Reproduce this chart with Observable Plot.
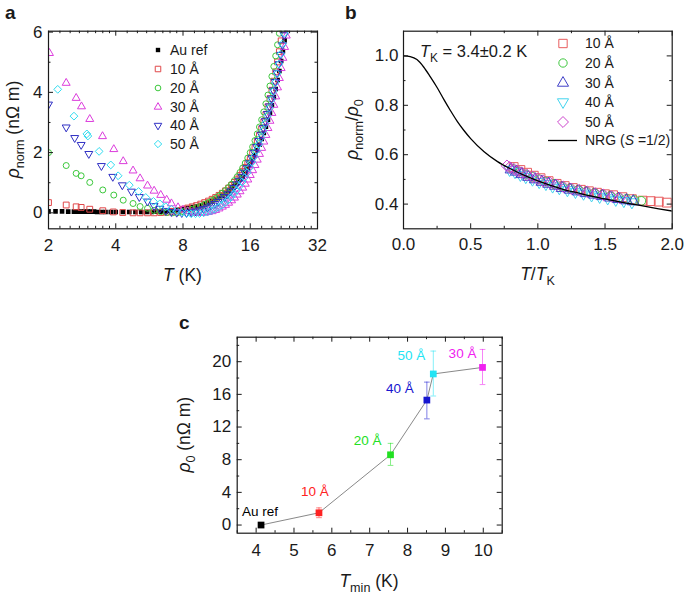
<!DOCTYPE html>
<html><head><meta charset="utf-8">
<script src="https://cdn.jsdelivr.net/npm/d3@7"></script>
<script src="https://cdn.jsdelivr.net/npm/@observablehq/plot@0.6"></script>
<style>
body{margin:0;background:#fff;}
#wrap{position:relative;width:685px;height:594px;background:#fff;overflow:hidden;}
#wrap > svg{position:absolute;}
</style></head><body><div id="wrap"></div>
<script>
// ---------------- DATA ----------------
// Panel a: rho_norm (nOhm m) vs T (K)
const tAu = [2.0,2.15,2.3,2.45,2.6,2.7,2.8,2.9,3.0,3.1,3.2,3.3,3.45,3.6,3.8,4.0,4.3,4.6,4.9,5.2,5.5,5.8,6.1,6.4,6.7,7.0,7.3,7.6,8.0,8.4,8.8,9.2,9.6,10.0,10.4,10.8,11.2,11.6,12.0,12.4,12.8,13.2,13.6,14.0,14.4,14.8,15.2,15.6,16.0,16.4,16.8,17.2,17.6,18.0,18.4,18.8,19.2,19.6,20.0,20.4,20.8,21.2,21.6,22.0,22.4,22.8,23.2];
const rhoAu = [0.05,0.05,0.05,0.04,0.04,0.04,0.04,0.04,0.04,0.04,0.04,0.03,0.03,0.03,0.03,0.03,0.03,0.03,0.03,0.03,0.03,0.03,0.04,0.04,0.05,0.06,0.07,0.09,0.12,0.16,0.19,0.22,0.25,0.30,0.34,0.39,0.44,0.50,0.57,0.64,0.72,0.80,0.89,0.99,1.10,1.21,1.33,1.46,1.60,1.75,1.91,2.08,2.26,2.45,2.65,2.86,3.09,3.32,3.57,3.84,4.11,4.41,4.71,5.04,5.37,5.73,6.10];

const t10 = [2.0,2.4,2.66,2.8,3.06,3.5,3.9,4.3,4.78,5.14,5.55,5.94,6.36,6.76,7.2,7.6,8.0,8.4,8.8,9.2,9.6,10.0,10.4,10.8,11.2,11.6,12.0,12.4,12.8,13.2,13.6,14.0,14.4,14.8,15.2,15.6,16.0,16.4,16.8,17.2,17.6,18.0,18.4,18.8,19.2,19.6,20.0,20.4,20.8,21.2,21.6,22.0,22.4];
const rho10 = [0.34,0.26,0.20,0.18,0.12,0.07,0.03,0.01,0.0,0.0,0.0,0.0,0.01,0.02,0.05,0.08,0.12,0.16,0.20,0.24,0.29,0.34,0.39,0.45,0.51,0.58,0.65,0.73,0.82,0.91,1.01,1.12,1.24,1.37,1.51,1.66,1.82,1.99,2.17,2.37,2.57,2.79,3.02,3.26,3.52,3.79,4.07,4.37,4.68,5.01,5.35,5.71,6.08];

const t20 = [2.0,2.4,2.66,2.8,3.06,3.5,3.92,4.32,4.78,5.14,5.55,5.94,6.36,6.76,7.2,7.6,8.0,8.4,8.8,9.2,9.6,10.0,10.4,10.8,11.2,11.6,12.0,12.4,12.8,13.2,13.6,14.0,14.4,14.8,15.2,15.6,16.0,16.4,16.8,17.2,17.6,18.0,18.4,18.8,19.2,19.6,20.0,20.4,20.8,21.2,21.6,22.0];
const rho20 = [2.0,1.57,1.31,1.23,1.01,0.76,0.59,0.42,0.31,0.21,0.15,0.08,0.04,0.01,0.0,0.01,0.04,0.08,0.12,0.17,0.22,0.28,0.34,0.41,0.48,0.56,0.65,0.74,0.84,0.95,1.07,1.2,1.34,1.49,1.65,1.82,2.0,2.19,2.4,2.62,2.85,3.09,3.35,3.62,3.91,4.21,4.53,4.86,5.21,5.58,5.96,6.36];

const t30 = [2.02,2.4,2.66,2.81,3.06,3.49,3.92,4.32,4.78,5.14,5.55,5.94,6.36,6.76,7.1,7.6,8.0,8.4,8.8,9.2,9.6,10.0,10.4,10.8,11.2,11.6,12.0,12.4,12.8,13.2,13.6,14.0,14.4,14.8,15.2,15.6,16.0,16.4,16.8,17.2,17.6,18.0,18.4,18.8,19.2,19.6,20.0,20.4,20.8,21.2,21.6,22.0,22.4,22.8,23.2,23.6];
const rho30 = [5.3,4.31,3.81,3.53,3.11,2.54,2.11,1.71,1.4,1.14,0.9,0.73,0.59,0.43,0.31,0.18,0.1,0.05,0.02,0.0,-0.01,0.0,0.02,0.05,0.09,0.14,0.2,0.26,0.33,0.41,0.5,0.6,0.71,0.83,0.96,1.1,1.25,1.41,1.58,1.76,1.95,2.15,2.36,2.58,2.81,3.05,3.31,3.58,3.86,4.16,4.47,4.8,5.14,5.5,5.88,6.27];

const t40 = [2.0,2.4,2.62,2.8,3.03,3.45,3.88,4.28,4.7,5.1,5.55,5.94,6.3,6.7,7.1,7.5,7.9,8.3,8.7,9.1,9.5,9.9,10.3,10.7,11.1,11.5,11.9,12.3,12.7,13.1,13.5,13.9,14.3,14.7,15.1,15.5,15.9,16.3,16.7,17.1,17.5,17.9,18.3,18.7,19.1,19.5,19.9,20.3,20.7,21.1,21.5,21.9,22.3,22.7,23.1];
const rho40 = [3.6,2.84,2.49,2.26,1.96,1.56,1.2,0.92,0.71,0.53,0.38,0.23,0.14,0.07,0.03,0.01,0.0,0.0,0.02,0.05,0.09,0.13,0.18,0.24,0.3,0.37,0.45,0.53,0.62,0.72,0.83,0.95,1.07,1.2,1.34,1.49,1.65,1.82,2.0,2.19,2.39,2.6,2.82,3.05,3.29,3.54,3.8,4.07,4.35,4.64,4.94,5.25,5.57,5.9,6.24];

const t50 = [2.2,2.6,2.97,3.0,3.37,3.8,4.1,4.6,5.06,5.45,5.9,6.3,6.7,7.1,7.5,7.9,8.3,8.7,9.1,9.5,9.9,10.3,10.7,11.1,11.5,11.9,12.3,12.7,13.1,13.5,13.9,14.3,14.7,15.1,15.5,15.9,16.3,16.7,17.1,17.5,17.9,18.3,18.7,19.1,19.5,19.9,20.3,20.7,21.1,21.5,21.9,22.3,22.7,23.1];
const rho50 = [4.1,3.21,2.62,2.55,2.04,1.59,1.23,0.92,0.71,0.51,0.38,0.3,0.2,0.12,0.06,0.01,-0.02,-0.03,-0.03,-0.02,0.0,0.03,0.07,0.12,0.18,0.25,0.33,0.42,0.52,0.63,0.75,0.88,1.02,1.17,1.33,1.5,1.68,1.87,2.07,2.28,2.5,2.73,2.97,3.22,3.48,3.75,4.03,4.32,4.62,4.94,5.27,5.61,5.96,6.32];

const aXMajor = [2,4,8,16,32];
const aXMinor = [2.25,2.5,2.75,3,3.25,3.5,3.75,4.5,5,5.5,6,6.5,7,7.5,9,10,11,12,13,14,15,18,20,22,24,26,28,30];
const aYMajor = [0,2,4,6];
const aYMinor = [1,3,5];
const aLegend = ["Au ref","10 Å","20 Å","30 Å","40 Å","50 Å"];

// Panel b: rho_norm/rho0 vs T/TK
const nrgT = [0,0.05,0.1,0.15,0.2,0.25,0.3,0.35,0.4,0.45,0.5,0.6,0.7,0.8,0.9,1.0,1.1,1.2,1.3,1.4,1.5,1.6,1.7,1.8,1.9,2.0];
const nrgRho = [1.0,0.997,0.985,0.955,0.915,0.872,0.824,0.778,0.735,0.698,0.665,0.612,0.572,0.542,0.516,0.494,0.475,0.458,0.445,0.432,0.421,0.410,0.400,0.391,0.381,0.372];
const b10x = [0.82,0.87,0.92,0.97,1.02,1.08,1.14,1.20,1.26,1.32,1.38,1.44,1.50,1.56,1.63,1.70,1.78,1.84,1.90,1.96];
const b10y = [0.550,0.538,0.527,0.515,0.505,0.493,0.482,0.473,0.465,0.458,0.452,0.446,0.440,0.436,0.428,0.420,0.414,0.412,0.410,0.406];
const b20x = [0.81,0.86,0.91,0.96,1.01,1.06,1.12,1.18,1.24,1.30,1.36,1.42,1.48,1.54,1.60,1.66,1.72,1.77];
const b20y = [0.543,0.532,0.520,0.510,0.500,0.491,0.482,0.471,0.463,0.457,0.450,0.444,0.438,0.432,0.426,0.421,0.416,0.413];
const b30x = [0.80,0.84,0.88,0.93,0.98,1.03,1.08,1.13,1.18,1.24,1.30,1.36,1.42,1.48,1.54,1.60,1.66,1.71];
const b30y = [0.540,0.531,0.521,0.510,0.500,0.490,0.482,0.474,0.465,0.458,0.451,0.444,0.438,0.432,0.426,0.420,0.415,0.411];
const b40x = [0.79,0.83,0.87,0.91,0.96,1.01,1.06,1.11,1.16,1.22,1.28,1.34,1.40,1.46,1.52,1.58,1.64,1.70];
const b40y = [0.539,0.530,0.519,0.510,0.500,0.490,0.482,0.472,0.465,0.457,0.450,0.443,0.436,0.430,0.424,0.418,0.413,0.408];
const b50x = [0.77,0.79,0.82,0.85,0.88,0.92,0.96,1.00,1.04,1.09,1.14,1.19,1.25,1.31,1.37,1.43,1.49,1.55,1.61];
const b50y = [0.555,0.549,0.542,0.534,0.527,0.518,0.510,0.502,0.494,0.486,0.478,0.470,0.462,0.456,0.449,0.443,0.437,0.431,0.425];
const bXMajor = [0,0.5,1.0,1.5,2.0];
const bXMinor = [0.25,0.75,1.25,1.75];
const bYMajor = [0.4,0.6,0.8,1.0];
const bYMinor = [0.5,0.7,0.9];
const bLegend = ["10 Å","20 Å","30 Å","40 Å","50 Å"];

// Panel c: rho0 vs Tmin
const cLabels = ["Au ref","10 Å","20 Å","40 Å","50 Å","30 Å"];
const cTmin = [4.13,5.66,7.55,8.51,8.68,9.98];
const cRho0 = [0.0,1.5,8.6,15.3,18.5,19.3];
const cErrLo = [-0.3,0.9,7.3,13.0,15.8,17.2];
const cErrHi = [0.3,2.1,10.0,17.5,21.3,21.5];
const cXMajor = [4,5,6,7,8,9,10];
const cXMinor = [3.5,4.5,5.5,6.5,7.5,8.5,9.5,10.5];
const cYMajor = [0,4,8,12,16,20];
const cYMinor = [2,6,10,14,18,22];

// ---------------- STYLE ----------------
const FONT = "'Liberation Sans', Arial, Helvetica, sans-serif";
const INK = "#1a1a1a";
const TICKFS = 17;
const colA = {"Au ref":"#000000","10 Å":"#e0484a","20 Å":"#3cc83c","30 Å":"#dc3cdc","40 Å":"#3030c4","50 Å":"#2edcf0"};
const colB = {"10 Å":"#e85c5e","20 Å":"#40c840","30 Å":"#4040c8","40 Å":"#44d4ee","50 Å":"#cc44cc"};
const colC = {"Au ref":"#000000","10 Å":"#ff2222","20 Å":"#22e022","40 Å":"#1616d0","50 Å":"#22e4f4","30 Å":"#f020f0"};
const downTri = {draw(ctx, size){const s=Math.sqrt(size)*0.6824,t=s/2,u=s*Math.sqrt(3)/2;ctx.moveTo(0,s);ctx.lineTo(u,-t);ctx.lineTo(-u,-t);ctx.closePath();}};
const hCap = {draw(ctx, size){const w=Math.sqrt(size)/2;ctx.moveTo(-w,0);ctx.lineTo(w,0);}};
const symA = {"Au ref":"square","10 Å":"square2","20 Å":"circle","30 Å":"triangle2","40 Å":downTri,"50 Å":"diamond2"};
const rA = {"Au ref":2.6,"10 Å":3.7,"20 Å":3.0,"30 Å":3.8,"40 Å":3.8,"50 Å":3.5};
const symB = {"10 Å":"square2","20 Å":"circle","30 Å":"triangle2","40 Å":downTri,"50 Å":"diamond2"};
const rB = {"10 Å":5.6,"20 Å":4.4,"30 Å":5.6,"40 Å":5.6,"50 Å":5.2};
const cNudge = {"Au ref":[-1,-13],"10 Å":[-4,-21],"20 Å":[-23,-14],"40 Å":[-27,-11],"50 Å":[-22,-18],"30 Å":[-20,-14]};

const zip = (xs, ys, extra={}) => xs.slice(0, Math.min(xs.length, ys.length)).map((x,i)=>({x, y: ys[i], ...extra}));

function frameTicks(xs, ys, len, iw, ih) {
  const o = {stroke: INK, strokeWidth: 1};
  const m = [];
  if (xs) { m.push(Plot.tickX(xs, {...o, x: d=>d, insetTop: ih-len}), Plot.tickX(xs, {...o, x: d=>d, insetBottom: ih-len})); }
  if (ys) { m.push(Plot.tickY(ys, {...o, y: d=>d, insetRight: iw-len}), Plot.tickY(ys, {...o, y: d=>d, insetLeft: iw-len})); }
  return m;
}
const baseStyle = {fontFamily: FONT, fontSize: "17px", color: INK, background: "transparent", overflow: "visible"};
const wrap = document.getElementById("wrap");
function place(svg, left, top){ svg.style.left = left+"px"; svg.style.top = top+"px"; svg.style.maxWidth="none"; wrap.appendChild(svg); }

// ---------------- PANEL A ----------------
{
  const W=330,H=300,ml=48,mr=13,mt=30.7,mb=71.7, iw=W-ml-mr, ih=H-mt-mb;
  const series = [["Au ref",tAu,rhoAu],["10 Å",t10,rho10],["20 Å",t20,rho20],["30 Å",t30,rho30],["40 Å",t40,rho40],["50 Å",t50,rho50]];
  const dots = series.map(([k,t,r]) => Plot.dot(zip(t,r), {
    x:"x", y:"y", symbol: symA[k], r: rA[k], clip: true,
    fill: k==="Au ref" ? colA[k] : "none", stroke: k==="Au ref" ? "none" : colA[k], strokeWidth: 1
  }));
  const p = Plot.plot({
    width:W, height:H, marginLeft:ml, marginRight:mr, marginTop:mt, marginBottom:mb,
    x:{type:"log", base:2, domain:[2,32]}, y:{domain:[-0.53,6.03]},
    style: baseStyle,
    marks: [
      ...dots,
      Plot.frame({stroke: INK, strokeWidth: 1.2}),
      ...frameTicks(aXMajor, aYMajor, 5, iw, ih),
      ...frameTicks(aXMinor, aYMinor, 2.5, iw, ih),
      Plot.axisX({ticks: aXMajor, tickSize: 0, tickPadding: 10, tickFormat: d=>String(d), fontSize: TICKFS, label: null}),
      Plot.axisY({ticks: aYMajor, tickSize: 0, tickPadding: 6, tickFormat: d=>String(d), fontSize: TICKFS, label: null})
    ]
  });
  place(p, 0, 0);
}

// ---------------- PANEL B ----------------
{
  const W=345,H=300,ml=63,mr=13.3,mt=30.7,mb=71.7, iw=W-ml-mr, ih=H-mt-mb;
  const series = [["10 Å",b10x,b10y],["20 Å",b20x,b20y],["40 Å",b40x,b40y],["30 Å",b30x,b30y],["50 Å",b50x,b50y]];
  const dots = series.map(([k,x,y]) => Plot.dot(zip(x,y), {
    x:"x", y:"y", symbol: symB[k], r: rB[k], clip: true, fill: "none", stroke: colB[k], strokeWidth: 1
  }));
  const p = Plot.plot({
    width:W, height:H, marginLeft:ml, marginRight:mr, marginTop:mt, marginBottom:mb,
    x:{domain:[0,2]}, y:{domain:[0.3,1.1]},
    style: baseStyle,
    marks: [
      ...dots,
      Plot.line(zip(nrgT, nrgRho), {x:"x", y:"y", stroke:"#000", strokeWidth:1.3, curve:"monotone-x", clip:true}),
      Plot.frame({stroke: INK, strokeWidth: 1.2}),
      ...frameTicks(bXMajor, bYMajor, 5, iw, ih),
      ...frameTicks(bXMinor, bYMinor, 2.5, iw, ih),
      Plot.axisX({ticks: bXMajor, tickSize: 0, tickPadding: 9, tickFormat: d3.format(".1f"), fontSize: TICKFS, label: null}),
      Plot.axisY({ticks: bYMajor, tickSize: 0, tickPadding: 5, tickFormat: d3.format(".1f"), fontSize: TICKFS, label: null})
    ]
  });
  place(p, 340, 0);
}

// ---------------- PANEL C ----------------
{
  const W=345,H=284,ml=66.7,mr=13.3,mt=26.7,mb=61.3, iw=W-ml-mr, ih=H-mt-mb;
  const data = cLabels.map((k,i)=>({k, x:cTmin[i], y:cRho0[i], lo:cErrLo[i], hi:cErrHi[i], c:colC[k]}));
  const labelMarks = data.map(d => Plot.text([d], {x:"x", y:"y", text:"k", fill: d.c, dx: cNudge[d.k][0], dy: cNudge[d.k][1], fontSize: 13.5}));
  const p = Plot.plot({
    width:W, height:H, marginLeft:ml, marginRight:mr, marginTop:mt, marginBottom:mb,
    x:{domain:[3.5,10.5]}, y:{domain:[-1,23]}, color:{type:"identity"},
    style: baseStyle,
    marks: [
      Plot.line(data, {x:"x", y:"y", stroke:"#7a7a7a", strokeWidth:0.9, sort:"x"}),
      Plot.ruleX(data, {x:"x", y1:"lo", y2:"hi", stroke:"c", strokeOpacity:0.55, strokeWidth:1}),
      Plot.dot(data, {x:"x", y:"hi", symbol: hCap, r: 3.2, stroke:"c", strokeOpacity:0.55, strokeWidth:1}),
      Plot.dot(data, {x:"x", y:"lo", symbol: hCap, r: 3.2, stroke:"c", strokeOpacity:0.55, strokeWidth:1}),
      Plot.dot(data, {x:"x", y:"y", symbol:"square", r:3.8, fill:"c", stroke:"none"}),
      ...labelMarks,
      Plot.frame({stroke: INK, strokeWidth: 1.2}),
      ...frameTicks(cXMajor, cYMajor, 5, iw, ih),
      ...frameTicks(cXMinor, cYMinor, 2.5, iw, ih),
      Plot.axisX({ticks: cXMajor, tickSize: 0, tickPadding: 11, tickFormat: d=>String(d), fontSize: TICKFS, label: null}),
      Plot.axisY({ticks: cYMajor, tickSize: 0, tickPadding: 6, tickFormat: d=>String(d), fontSize: TICKFS, label: null})
    ]
  });
  place(p, 170, 310);
}

// ---------------- OVERLAY: titles, legends ----------------
const ov = d3.create("svg").attr("width",685).attr("height",594)
  .style("left","0px").style("top","0px").style("pointer-events","none")
  .attr("font-family", FONT).attr("fill", INK);
wrap.appendChild(ov.node());

function rich(x, y, parts, {size=17.5, anchor="middle", rotate=0, weight="normal", fill=INK}={}) {
  const t = ov.append("text").attr("x",x).attr("y",y).attr("text-anchor",anchor)
    .attr("font-size",size).attr("font-weight",weight).attr("fill",fill);
  if (rotate) t.attr("transform",`rotate(${rotate},${x},${y})`);
  let shift = 0;
  for (const p of parts) {
    const ts = t.append("tspan").text(p.t);
    const target = p.sub ? size*0.3 : 0;
    if (target !== shift) { ts.attr("dy", target - shift); shift = target; }
    if (p.sub) ts.attr("font-size", size*0.72);
    if (p.i) ts.attr("font-style","italic");
  }
  return t;
}
// panel letters
rich(5, 19, [{t:"a"}], {size:19, anchor:"start", weight:"bold"});
rich(345, 19, [{t:"b"}], {size:19, anchor:"start", weight:"bold"});
rich(179, 329, [{t:"c"}], {size:19, anchor:"start", weight:"bold"});
// axis titles
rich(182.5, 281, [{t:"T", i:true},{t:" (K)"}]);
rich(19, 129.5, [{t:"ρ", i:true},{t:"norm", sub:true},{t:" (nΩ m)"}], {rotate:-90});
rich(537.5, 280, [{t:"T", i:true},{t:"/"},{t:"T", i:true},{t:"K", sub:true}]);
rich(358, 129.5, [{t:"ρ", i:true},{t:"norm", sub:true},{t:"/"},{t:"ρ", i:true},{t:"0", sub:true}], {rotate:-90});
rich(369, 587, [{t:"T", i:true},{t:"min", sub:true},{t:" (K)"}]);
rich(190, 434.7, [{t:"ρ", i:true},{t:"0", sub:true},{t:" (nΩ m)"}], {rotate:-90});
// TK annotation
rich(420, 57, [{t:"T", i:true},{t:"K", sub:true},{t:" = 3.4±0.2 K"}], {size:16.5, anchor:"start"});

const d3sym = {"square":d3.symbolSquare,"square2":d3.symbolSquare2,"circle":d3.symbolCircle,"triangle2":d3.symbolTriangle2,"diamond2":d3.symbolDiamond2};
function legendSym(x, y, s, r, fill, stroke, sw=1) {
  const type = typeof s === "string" ? d3sym[s] : s;
  ov.append("path").attr("transform",`translate(${x},${y})`)
    .attr("d", d3.symbol(type, Math.PI*r*r)())
    .attr("fill", fill).attr("stroke", stroke).attr("stroke-width", sw);
}
// legend a
const aRows = [50,69,88,107,125.5,144];
aLegend.forEach((k,i) => {
  const filled = k==="Au ref";
  legendSym(158, aRows[i], symA[k], rA[k]*0.95, filled ? colA[k] : "none", filled ? "none" : colA[k]);
  rich(170, aRows[i]+4.8, [{t:k}], {size:14, anchor:"start"});
});
// legend b
const bRows = [43.5,63,83,102,122];
bLegend.forEach((k,i) => {
  legendSym(563, bRows[i], symB[k], rB[k]*0.95, "none", colB[k]);
  rich(585, bRows[i]+4.8, [{t:k}], {size:14, anchor:"start"});
});
ov.append("line").attr("x1",548).attr("x2",577).attr("y1",140.5).attr("y2",140.5).attr("stroke","#000").attr("stroke-width",1.3);
rich(585, 145.3, [{t:"NRG ("},{t:"S", i:true},{t:" =1/2)"}], {size:14, anchor:"start"});
</script></body></html>
